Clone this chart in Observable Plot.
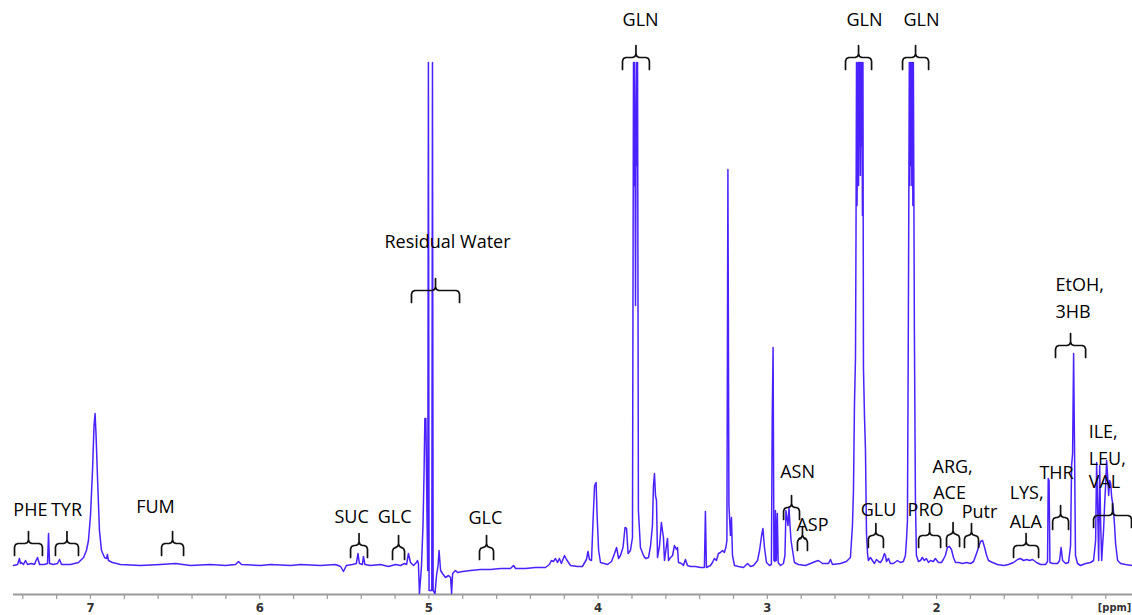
<!DOCTYPE html>
<html>
<head>
<meta charset="utf-8">
<script src="https://cdn.jsdelivr.net/npm/d3@7"></script>
<script src="https://cdn.jsdelivr.net/npm/@observablehq/plot@0.6"></script>
<style>
  html, body { margin: 0; padding: 0; background: #fff; }
  #chart svg { display: block; }
</style>
</head>
<body>
<div id="chart"></div>
<script>
// ---- Spectrum: [chemical shift (ppm), intensity (a.u.)] ----
const spectrumAromatic = [
  [7.455,0],[7.431,1],[7.420,7],[7.414,2],[7.408,3],[7.396,1],[7.384,5],[7.372,1],[7.349,2],
  [7.331,1],[7.319,6],[7.313,8],[7.301,1],[7.272,1],[7.254,2],[7.248,32],[7.242,2],[7.219,1],
  [7.195,2],[7.183,6],[7.171,1],[7.118,1],[7.071,3],[7.041,8],[7.024,15],[7.012,25],[7.000,50],
  [6.988,95],[6.979,140],[6.973,152],[6.967,130],[6.959,90],[6.947,35],[6.935,15],[6.917,8],
  [6.905,7],[6.900,11],[6.894,5],[6.870,3],[6.823,1],[6.705,0],[6.586,1],[6.498,2],[6.409,0],
  [6.291,1],[6.202,0],[6.143,1],[6.125,4],[6.108,1],[5.995,0],[5.936,1],[5.818,0],[5.759,1],
  [5.641,0],[5.552,1],[5.522,-1],[5.505,-6],[5.488,0],[5.452,1],[5.429,2],[5.419,12],[5.411,2],
  [5.393,1],[5.387,9],[5.378,1],[5.345,0],[5.286,1],[5.239,-1],[5.197,1],[5.168,0],[5.144,2],
  [5.132,1],[5.121,12],[5.109,3],[5.091,0],[5.074,3],[5.068,5],[5.062,2]
];
const spectrumWater = [
  [5.056,-28],[5.044,-1],[5.035,40],[5.029,90],[5.024,147],[5.018,147],[5.012,60],[5.007,-5],
  [5.003,503],[4.999,-25],[4.983,-25],[4.979,503],[4.975,-25],[4.964,-28],[4.955,-10],[4.946,0],
  [4.940,15],[4.931,-5],[4.920,-8],[4.902,-12],[4.884,-10],[4.872,-12],[4.866,-28],[4.860,-8],
  [4.843,-5],[4.831,-7],[4.801,-6],[4.754,-5],[4.695,-4],[4.636,-4],[4.577,-3],[4.518,-3],
  [4.500,0],[4.488,-3],[4.429,-3],[4.370,-2],[4.311,-2]
];
const spectrumMid = [
  [4.288,1],[4.276,5],[4.264,4],[4.252,7],[4.240,3],[4.229,7],[4.217,2],[4.199,10],[4.187,6],
  [4.163,0],[4.122,-1],[4.093,-1],[4.069,6],[4.060,14],[4.051,6],[4.039,5],[4.030,45],[4.021,80],
  [4.012,83],[4.006,50],[3.997,15],[3.986,3],[3.944,1],[3.921,4],[3.903,12],[3.891,18],[3.879,7],
  [3.868,10],[3.853,18],[3.841,38],[3.832,37],[3.823,12],[3.809,15],[3.797,28],[3.791,503],
  [3.788,380],[3.785,503],[3.782,420],[3.779,260],[3.776,420],[3.773,503],[3.770,400],[3.767,503],
  [3.762,55],[3.750,18],[3.732,10],[3.720,7],
  [3.702,8],[3.690,20],[3.679,40],[3.673,80],[3.667,92],[3.661,70],[3.655,65],[3.649,8],[3.637,20],
  [3.626,43],[3.620,35],[3.614,28],[3.608,5],[3.596,20],[3.590,27],[3.584,5],[3.572,8],[3.560,10],
  [3.549,20],[3.537,16],[3.531,18],[3.525,3],[3.507,2],[3.496,0],[3.484,6],[3.472,0],[3.454,-1],
  [3.425,-1],[3.395,-2],[3.372,-2],[3.366,54],[3.360,-2],[3.336,0],[3.324,3],[3.313,7],[3.301,5],
  [3.289,12],[3.277,13],[3.265,15],[3.254,13],[3.245,18],[3.239,25],[3.233,396],[3.227,60],
  [3.218,30],[3.212,48],[3.206,10],[3.194,0],[3.170,-1],[3.141,-2],[3.117,2],[3.099,-1],[3.082,0],
  [3.058,5],[3.046,15],[3.034,30],[3.026,37],[3.017,18],[3.005,3],[2.987,0],[2.976,1],[2.971,150],
  [2.966,218],[2.961,5],[2.955,4],[2.952,55],[2.947,5],[2.941,52],[2.936,3],[2.922,0],[2.905,2],
  [2.896,10],[2.890,55],[2.884,48],[2.878,40],[2.872,58],[2.866,40],[2.860,25],[2.851,15],
  [2.840,3],[2.816,1],[2.775,0],[2.745,2],[2.716,4],[2.698,5],[2.674,2],[2.638,2],[2.627,6],
  [2.615,1],[2.568,2]
];
const spectrumAliphatic = [
  [2.533,4],[2.509,8],[2.497,40],[2.491,75],[2.485,162],[2.479,208],[2.476,330],[2.473,503],
  [2.470,360],[2.467,420],[2.464,503],[2.461,380],[2.458,503],[2.456,440],[2.453,503],[2.450,390],
  [2.447,503],[2.444,420],[2.441,503],[2.438,350],[2.435,503],[2.432,198],[2.426,150],[2.420,115],
  [2.414,32],[2.408,12],[2.403,5],[2.391,8],[2.379,5],[2.367,2],[2.355,6],[2.343,4],[2.332,3],
  [2.320,6],[2.308,12],[2.302,10],[2.296,4],[2.284,7],[2.273,2],[2.255,2],[2.231,5],[2.214,3],
  [2.196,4],[2.184,10],[2.178,25],[2.172,45],[2.167,230],[2.164,360],[2.161,503],[2.158,380],
  [2.155,503],[2.152,400],[2.149,503],[2.146,380],[2.143,503],[2.140,360],[2.137,503],[2.131,235],
  [2.125,68],[2.119,10],[2.107,4],[2.095,5],[2.084,8],
  [2.072,5],[2.060,7],[2.048,3],[2.036,5],[2.019,4],[2.007,7],[1.989,3],[1.971,3],[1.960,6],
  [1.948,10],[1.936,18],[1.924,19],[1.912,16],[1.900,8],[1.888,3],[1.870,3],[1.846,2],[1.823,3],
  [1.799,2],[1.781,4],[1.764,12],[1.752,18],[1.740,24],[1.728,25],[1.716,18],[1.704,10],[1.693,5],
  [1.669,3],[1.640,1],[1.604,0],[1.575,1],[1.545,3],[1.521,6],[1.504,7],[1.486,5],[1.468,6],
  [1.450,5],[1.433,6],[1.409,3],[1.385,1],[1.356,1],[1.344,4],[1.340,87],[1.335,85],[1.330,3],
  [1.314,2],[1.285,2],[1.273,5],[1.264,18],[1.255,5],[1.237,2],[1.220,3],[1.208,20],[1.202,100],
  [1.196,112],[1.190,212],[1.184,105],[1.179,10],[1.167,2],[1.149,0],[1.119,2],[1.090,3],[1.072,5],
  [1.060,25],[1.054,103],[1.048,60],[1.042,5],[1.036,100],[1.030,40],[1.024,5],[1.019,20],[1.013,35],
  [1.007,60],[1.001,80],[0.995,105],[0.989,90],[0.983,70],[0.977,85],[0.971,82],[0.965,68],
  [0.959,62],[0.953,52],[0.948,40],[0.942,22],[0.930,5],[0.912,2],[0.883,1],[0.842,0]
];

// ---- Assignment brackets: [left ppm, right ppm, bracket height (a.u.)] ----
const bracketNames = ["PHE","TYR","FUM","SUC","GLC","Water","GLC","GLN","ASN","ASP","GLN","GLU",
  "GLN","PRO","ARG/ACE","Putr","LYS/ALA","THR","EtOH/3HB","ILE/LEU/VAL"];
const bracketFrom = [7.449,7.207,6.580,5.463,5.215,5.103,4.701,3.856,2.904,2.822,2.538,2.403,
  2.201,2.106,1.941,1.835,1.545,1.314,1.297,1.072];
const bracketTo   = [7.284,7.071,6.450,5.363,5.144,4.819,4.618,3.697,2.810,2.763,2.384,2.314,
  2.047,1.976,1.864,1.752,1.397,1.220,1.119,0.848];
const bracketLevel = [22,22,22,20,18,275,18,508,58,27,508,30,508,30,31,30,20,48,220,50];

// ---- Labels: text, ppm, intensity level ----
const labelText  = ["PHE","TYR","FUM","SUC","GLC","Residual Water","GLC","GLN","GLN","GLN","ASN","ASP",
  "GLU","PRO","ARG,","ACE","Putr","LYS,","ALA","THR","EtOH,","3HB","ILE,","LEU,","VAL"];
const labelPpm   = [7.355,7.142,6.616,5.457,5.203,4.890,4.666,3.749,2.426,2.089,2.821,2.733,
  2.343,2.065,1.905,1.923,1.746,1.568,1.568,1.291,1.297,1.297,1.101,1.101,1.101];
const labelLevel = [55,55,58,48,48,323,47,545,545,545,93,40,55,55,98,72,53,72,43,92,280,253,133,106,83];
const labelStart = [false,false,false,false,false,false,false,false,false,false,false,false,
  false,false,false,false,false,true,true,false,true,true,true,true,true];

// ---- Axis ----
const tickValues = [7.4,7.2,7.0,6.8,6.6,6.4,6.2,6.0,5.8,5.6,5.4,5.2,5.0,4.8,4.6,4.4,4.2,4.0,
  3.8,3.6,3.4,3.2,3.0,2.8,2.6,2.4,2.2,2.0,1.8,1.6,1.4,1.2,1.0];
const tickLabels = [7,6,5,4,3,2];
const axisUnit = "[ppm]";

// build tables
const spectrum = [...spectrumAromatic, ...spectrumWater, ...spectrumMid, ...spectrumAliphatic]
  .map(([ppm, v]) => ({ppm, v}));

const hook = 12, tick = 12, r = 0.02, rv = 3.5;
const bracketPts = [];
bracketNames.forEach((name, i) => {
  const a = bracketFrom[i], b = bracketTo[i], t = bracketLevel[i], c = (a + b) / 2;
  const pts = [
    [a, t - hook], [a, t - rv], [a - r * 0.3, t - rv * 0.3], [a - r, t], [c + r, t],
    [c + r * 0.3, t + rv * 0.3], [c, t + rv], [c, t + tick],
    [c, t + rv], [c - r * 0.3, t + rv * 0.3], [c - r, t], [b + r, t],
    [b + r * 0.3, t - rv * 0.3], [b, t - rv], [b, t - hook]
  ];
  pts.forEach(([x, y]) => bracketPts.push({id: i, x, y}));
});

const labels = labelText.map((t, i) => ({t, x: labelPpm[i], y: labelLevel[i], start: labelStart[i]}));

const chart = Plot.plot({
  width: 1132,
  height: 615,
  marginLeft: 13,
  marginRight: 0,
  marginTop: 0,
  marginBottom: 21,
  x: {domain: [0.842, 7.455], reverse: true, axis: null},
  y: {domain: [-29, 565], axis: null},
  style: {background: "#fff", overflow: "visible"},
  marks: [
    Plot.ruleY([-29], {stroke: "#9a9a9a", strokeWidth: 2}),
    Plot.axisX(tickValues, {
      tickSize: 5, stroke: "#9a9a9a", strokeWidth: 1.2, tickPadding: 3,
      tickFormat: d => tickLabels.includes(Math.round(d * 10) / 10) ? String(Math.round(d)) : "",
      fontSize: 13, fontWeight: "bold", fill: "#333",
      fontFamily: "DejaVu Sans Condensed, DejaVu Sans, sans-serif", label: null
    }),
    Plot.text([axisUnit], {x: 0.948, y: -42, text: d => d, fontSize: 11, fontWeight: "bold",
      fill: "#333", fontFamily: "DejaVu Sans Condensed, DejaVu Sans, sans-serif"}),
    Plot.line(spectrum, {x: "ppm", y: "v", stroke: "#4a22ff", strokeWidth: 1.5, curve: "linear"}),
    Plot.line(bracketPts, {x: "x", y: "y", z: "id", stroke: "#111", strokeWidth: 1.7,
      strokeLinejoin: "round", curve: "linear"}),
    Plot.text(labels.filter(d => !d.start), {x: "x", y: "y", text: "t", fontSize: 18,
      fontFamily: "Open Sans, sans-serif", fill: "#000", textAnchor: "middle"}),
    Plot.text(labels.filter(d => d.start), {x: "x", y: "y", text: "t", fontSize: 18,
      fontFamily: "Open Sans, sans-serif", fill: "#000", textAnchor: "start"})
  ]
});
document.getElementById("chart").appendChild(chart);
</script>
</body>
</html>
